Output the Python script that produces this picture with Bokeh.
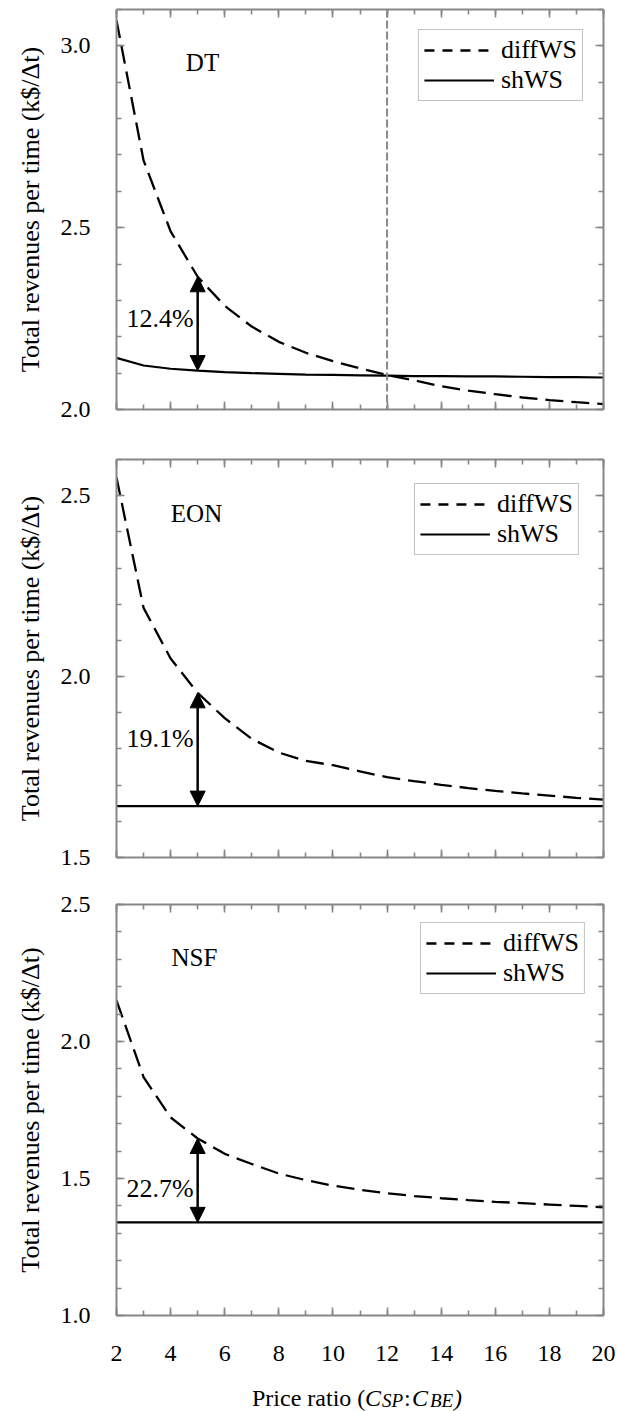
import numpy as np
from bokeh.plotting import figure
from bokeh.layouts import column
from bokeh.models import (LinearAxis, FixedTicker, Legend, LegendItem, Label,
                          Arrow, NormalHead, Span, PrintfTickFormatter)
from bokeh.embed import file_html
from bokeh.resources import INLINE

# ---------------- data ----------------
price_ratio = [2, 3, 4, 5, 6, 7, 8, 9, 10, 11, 12, 13, 14, 15, 16, 17, 18, 19, 20]

dt_diffws = [3.07, 2.685, 2.49, 2.365, 2.285, 2.228, 2.186, 2.156, 2.133, 2.113,
             2.095, 2.080, 2.064, 2.052, 2.042, 2.033, 2.026, 2.020, 2.015]
dt_shws = [2.142, 2.121, 2.112, 2.107, 2.103, 2.100, 2.098, 2.096, 2.095, 2.094,
           2.093, 2.092, 2.092, 2.091, 2.091, 2.090, 2.089, 2.089, 2.088]

eon_diffws = [2.55, 2.19, 2.05, 1.955, 1.885, 1.828, 1.790, 1.767, 1.755, 1.738,
              1.722, 1.711, 1.701, 1.692, 1.684, 1.677, 1.671, 1.665, 1.660]
eon_shws = [1.642, 1.642, 1.642, 1.642, 1.642, 1.642, 1.642, 1.642, 1.642, 1.642,
            1.642, 1.642, 1.642, 1.642, 1.642, 1.642, 1.642, 1.642, 1.642]

nsf_diffws = [2.15, 1.87, 1.723, 1.646, 1.590, 1.553, 1.518, 1.494, 1.474, 1.459,
              1.446, 1.436, 1.428, 1.421, 1.415, 1.410, 1.405, 1.400, 1.395]
nsf_shws = [1.340, 1.340, 1.340, 1.340, 1.340, 1.340, 1.340, 1.340, 1.340, 1.340,
            1.340, 1.340, 1.340, 1.340, 1.340, 1.340, 1.340, 1.340, 1.340]

panel_names = ["DT", "EON", "NSF"]
gap_labels = ["12.4%", "19.1%", "22.7%"]
arrow_ratio = 5          # price ratio at which the gap is marked
dt_break_even = 12       # crossing point marked in the DT panel

x_ticks = [2, 4, 6, 8, 10, 12, 14, 16, 18, 20]
x_tick_labels = ["2", "4", "6", "8", "10", "12", "14", "16", "18", "20"]

dt_y_ticks = [2.0, 2.5, 3.0]
dt_y_tick_labels = ["2.0", "2.5", "3.0"]
eon_y_ticks = [1.5, 2.0, 2.5]
eon_y_tick_labels = ["1.5", "2.0", "2.5"]
nsf_y_ticks = [1.0, 1.5, 2.0, 2.5]
nsf_y_tick_labels = ["1.0", "1.5", "2.0", "2.5"]

y_label = "Total revenues per time (k$/\u0394t)"
# x title pieces: (text, style, is_subscript)
x_title_parts = [("Price ratio (", "normal", False), ("C", "italic", False),
                 ("SP", "italic", True), (":", "normal", False), ("C", "italic", False),
                 ("BE", "italic", True), (")", "italic", False)]

# ---------------- style ----------------
FONT = "Liberation Serif"
GRAY = "#878787"


def style_axis(ax, ticks, labels, minor, show_labels, standoff, fmt):
    ax.ticker = FixedTicker(ticks=ticks, minor_ticks=minor)
    ax.formatter = PrintfTickFormatter(format=fmt)
    ax.major_label_overrides = {t: l for t, l in zip(ticks, labels)}
    ax.axis_line_color = GRAY
    ax.axis_line_width = 2
    ax.major_tick_line_color = GRAY
    ax.major_tick_line_width = 1.6
    ax.minor_tick_line_color = GRAY
    ax.minor_tick_line_width = 1.6
    ax.major_tick_in = 8
    ax.major_tick_out = 0
    ax.minor_tick_in = 5
    ax.minor_tick_out = 0
    ax.major_label_text_font = FONT
    if show_labels:
        ax.major_label_text_font_size = "24px"
        ax.major_label_text_color = "black"
        ax.major_label_standoff = standoff
    else:
        ax.major_label_text_font_size = "1px"
        ax.major_label_text_color = None
        ax.major_label_standoff = 0


def make_panel(idx, diff, sh, y_start, y_end, y_ticks, y_tick_labels,
               height, b_left, b_right, b_top, b_bottom, show_x_labels,
               name_off, pct_off, legend_margin):
    p = figure(width=618, height=height, x_range=(2, 20), y_range=(y_start, y_end),
               output_backend="svg", toolbar_location=None,
               min_border_left=b_left, min_border_right=b_right,
               min_border_top=b_top, min_border_bottom=b_bottom)
    p.outline_line_color = None
    p.xgrid.visible = False
    p.ygrid.visible = False
    p.background_fill_color = "white"
    p.border_fill_color = "white"

    x_minor = list(range(2, 21))
    y_minor = [round(v, 2) for v in np.arange(y_start, y_end + 1e-9, 0.1)]

    style_axis(p.xaxis[0], x_ticks, x_tick_labels, x_minor, show_x_labels, 30, "%d")
    style_axis(p.yaxis[0], y_ticks, y_tick_labels, y_minor, True, 26, "%.1f")
    p.yaxis[0].axis_label = y_label
    p.yaxis[0].axis_label_text_font = FONT
    p.yaxis[0].axis_label_text_font_size = "26px"
    p.yaxis[0].axis_label_text_font_style = "normal"
    p.yaxis[0].axis_label_text_color = "black"
    p.yaxis[0].axis_label_standoff = 13

    top = LinearAxis()
    style_axis(top, x_ticks, x_tick_labels, x_minor, False, 0, "%d")
    p.add_layout(top, "above")
    right = LinearAxis()
    style_axis(right, y_ticks, y_tick_labels, y_minor, False, 0, "%.1f")
    p.add_layout(right, "right")

    p.line(price_ratio, diff, line_color="black", line_width=2.3, line_dash="18 8")
    p.line(price_ratio, sh, line_color="black", line_width=2.2)
    # legend proxies (shorter dash as in the original legend); NaN so nothing is drawn
    lg_diff = p.line([np.nan, np.nan], [np.nan, np.nan], line_color="black",
                     line_width=2.3, line_dash="10 8")
    lg_sh = p.line([np.nan, np.nan], [np.nan, np.nan], line_color="black", line_width=2.2)

    legend = Legend(items=[LegendItem(label="diffWS", renderers=[lg_diff]),
                           LegendItem(label="shWS", renderers=[lg_sh])],
                    location="top_right")
    legend.label_text_font = FONT
    legend.label_text_font_size = "26px"
    legend.label_text_color = "black"
    legend.glyph_width = 70
    legend.glyph_height = 26
    legend.label_height = 26
    legend.label_standoff = 7
    legend.padding = 5
    legend.spacing = 0
    legend.margin = legend_margin
    legend.border_line_color = GRAY
    legend.border_line_width = 1.6
    legend.background_fill_alpha = 1.0
    p.add_layout(legend)

    # gap arrow
    i = price_ratio.index(arrow_ratio)
    head = dict(size=15, fill_color="black", line_color="black", line_width=1)
    p.add_layout(Arrow(x_start=arrow_ratio, y_start=sh[i], x_end=arrow_ratio, y_end=diff[i],
                       start=NormalHead(**head), end=NormalHead(**head),
                       line_color="black", line_width=2.5))
    p.add_layout(Label(x=arrow_ratio, y=(sh[i] + diff[i]) / 2, x_offset=-4, y_offset=pct_off,
                       text=gap_labels[idx], text_font=FONT, text_font_size="26px",
                       text_align="right", text_baseline="middle", text_color="black"))
    # panel name
    p.add_layout(Label(x=2, y=y_end, x_offset=name_off[0], y_offset=-name_off[1],
                       text=panel_names[idx], text_font=FONT, text_font_size="25px",
                       text_align="center", text_baseline="middle", text_color="black"))
    return p


p1 = make_panel(0, dt_diffws, dt_shws, 2.0, 3.1, dt_y_ticks, dt_y_tick_labels,
                440, 116, 13, 9, 31, False, (86, 53), 5, 20)
p1.add_layout(Span(location=dt_break_even, dimension="height", line_color="#8a8a8a",
                   line_width=2, line_dash="8 3"))

p2 = make_panel(1, eon_diffws, eon_shws, 1.5, 2.6, eon_y_ticks, eon_y_tick_labels,
                442, 116, 14, 19, 25, False, (80, 54), 11, 24)

p3 = make_panel(2, nsf_diffws, nsf_shws, 1.0, 2.5, nsf_y_ticks, nsf_y_tick_labels,
                490, 111, 15, 22, 57, True, (78, 53), -8, 18)

# separate strip for the x-axis title (with subscripts)
p4 = figure(width=618, height=39, x_range=(2, 20), y_range=(0, 39),
            x_axis_type=None, y_axis_type=None, output_backend="svg",
            toolbar_location=None, title_location=None,
            min_border_left=111, min_border_right=15,
            min_border_top=0, min_border_bottom=0)
p4.outline_line_color = None
p4.xgrid.visible = False
p4.ygrid.visible = False

x_mid = (2 + 20) / 2
part_offsets = [0, 113, 130, 152, 160, 178, 202]   # px from start of the title
for (txt, style, sub), dx in zip(x_title_parts, part_offsets):
    p4.add_layout(Label(x=x_mid, y=11 if sub else 14, x_offset=-108 + dx,
                        text=txt, text_font=FONT, text_font_size="19px" if sub else "24px",
                        text_font_style=style, text_align="left",
                        text_baseline="alphabetic", text_color="black"))

layout = column(p1, p2, p3, p4, spacing=0)
open("out.html", "w").write(file_html(layout, INLINE))
